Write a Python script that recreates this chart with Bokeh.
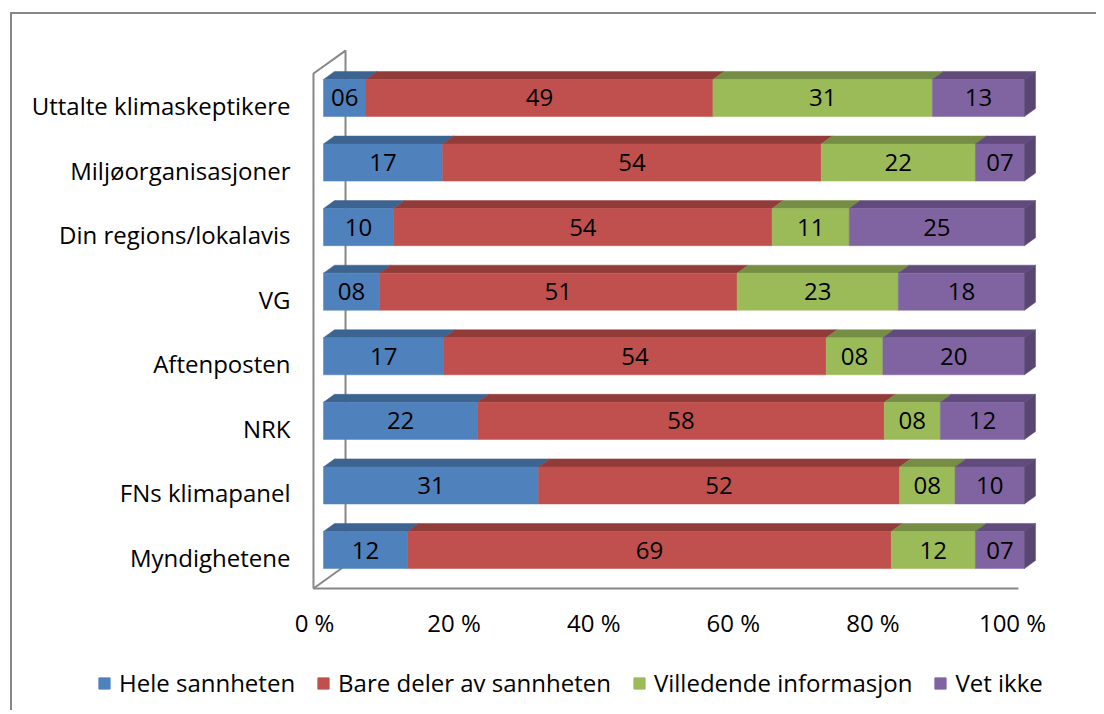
from bokeh.plotting import figure
from bokeh.layouts import column
from bokeh.models import ColumnDataSource, FixedTicker, Legend, LegendItem, Range1d
from bokeh.core.properties import value
from bokeh.embed import file_html
from bokeh.resources import INLINE

# ---------------- data ----------------
categories = ["Myndighetene", "FNs klimapanel", "NRK", "Aftenposten", "VG",
              "Din regions/lokalavis", "Miljøorganisasjoner", "Uttalte klimaskeptikere"]
series = ["Hele sannheten", "Bare deler av sannheten", "Villedende informasjon", "Vet ikke"]
hele = [12, 31, 22, 17, 8, 10, 17, 6]
bare = [69, 52, 58, 54, 51, 54, 54, 49]
villedende = [12, 8, 8, 8, 23, 11, 22, 31]
vet_ikke = [7, 10, 12, 20, 18, 25, 7, 13]
tick_values = [0, 20, 40, 60, 80, 100]
tick_labels = ["0 %", "20 %", "40 %", "60 %", "80 %", "100 %"]

# ---------------- style ----------------
FONT = "Open Sans"
FS = "24px"
front_colors = ["#4F81BD", "#C0504D", "#9BBB59", "#8064A2"]
top_colors = ["#3D6391", "#923C3A", "#758D45", "#604B7C"]
side_color = "#594673"
wall_color = "#878787"
DX, DY = 1.57, 0.124        # 3D depth offset (data units)
HALF_H = 0.287              # half height of bar front face
Y_SHIFT = 0.116             # front face centre relative to category tick
AXIS_OFF, AXIS_SCALE = -1.28, 0.9958   # floor-front projection of the % axis

p = figure(width=1084, height=640, output_backend="svg", toolbar_location=None,
           x_range=Range1d(-1.997, 103.0), y_range=Range1d(-0.542, 7.929),
           min_border_left=297, min_border_right=51, min_border_top=31,
           min_border_bottom=62)
p.frame_align = False
p.grid.visible = False
p.outline_line_color = None
p.background_fill_color = "white"
p.border_fill_color = "white"

# walls / floor
p.multi_line(xs=[[-1.43, -1.43, 3.14, 3.14], [-1.43, 99.14], [-1.43, 3.14]],
             ys=[[-0.48, 7.496, 7.85, -0.124], [-0.48, -0.48], [-0.48, -0.124]],
             line_color=wall_color, line_width=2)

data = [hele, bare, villedende, vet_ikke]
totals = [sum(v[i] for v in data) for i in range(len(categories))]
lefts = [0.0] * len(categories)
for k, vals in enumerate(data):
    frac = [100.0 * vals[i] / totals[i] for i in range(len(categories))]
    left = lefts[:]
    right = [left[i] + frac[i] for i in range(len(categories))]
    lefts = right
    yc = [i + Y_SHIFT for i in range(len(categories))]
    bottom = [y - HALF_H for y in yc]
    top = [y + HALF_H for y in yc]
    src = ColumnDataSource(dict(left=left, right=right, bottom=bottom, top=top,
                                xm=[(a + b) / 2 for a, b in zip(left, right)], ym=yc,
                                label=["%02d" % v for v in vals]))
    # top faces
    txs = [[l, r, r + DX, l + DX] for l, r in zip(left, right)]
    tys = [[t, t, t + DY, t + DY] for t in top]
    p.patches(txs, tys, fill_color=top_colors[k], line_color=top_colors[k], line_width=0.5)
    p.quad(left="left", right="right", bottom="bottom", top="top", source=src,
           fill_color=front_colors[k], line_color=front_colors[k], line_width=0.5)
    if k == len(data) - 1:
        sxs = [[rr, rr + DX, rr + DX, rr] for rr in right]
        sys_ = [[b, b + DY, t + DY, t] for b, t in zip(bottom, top)]
        p.patches(sxs, sys_, fill_color=side_color, line_color=side_color, line_width=0.5)
    p.text(x="xm", y="ym", text="label", source=src, text_font=value(FONT),
           text_font_size=FS, text_align="center", text_baseline="middle",
           text_color="black")

# axes
p.yaxis.ticker = FixedTicker(ticks=list(range(len(categories))))
p.yaxis.major_label_overrides = {i: c for i, c in enumerate(categories)}
tick_pos = [round(AXIS_OFF + t * AXIS_SCALE, 3) for t in tick_values]
p.xaxis.ticker = FixedTicker(ticks=tick_pos)
p.xaxis.major_label_overrides = {tp: lb for tp, lb in zip(tick_pos, tick_labels)}
for ax in (p.xaxis[0], p.yaxis[0]):
    ax.axis_line_color = None
    ax.major_tick_line_color = None
    ax.minor_tick_line_color = None
    ax.major_tick_out = 0
    ax.major_tick_in = 0
    ax.major_label_text_font = FONT
    ax.major_label_text_font_size = FS
    ax.major_label_text_color = "black"
p.yaxis.major_label_standoff = 19
p.xaxis.major_label_standoff = 13

# legend strip below the chart (its renderers are hidden; only the legend shows)
pl = figure(width=1084, height=56, output_backend="svg", toolbar_location=None,
            x_range=Range1d(0, 1084), y_range=Range1d(0, 56),
            min_border_left=0, min_border_right=0, min_border_top=0, min_border_bottom=0)
pl.frame_align = False
pl.axis.visible = False
pl.grid.visible = False
pl.outline_line_color = None
pl.border_fill_color = "white"
legend_items = []
for k, name in enumerate(series):
    r = pl.hbar(y=list(range(len(categories))), right=data[k], height=0.5,
                fill_color=front_colors[k], line_color=front_colors[k])
    r.visible = False
    legend_items.append(LegendItem(label=name, renderers=[r]))
legend = Legend(items=legend_items, orientation="horizontal", location=(85, 11),
                label_text_font=FONT, label_text_font_size=FS, label_text_color="black",
                glyph_width=14, glyph_height=14, label_standoff=8, spacing=21,
                padding=0, margin=0, border_line_color=None, background_fill_alpha=0,
                inactive_fill_alpha=0)
pl.add_layout(legend, "center")

layout = column(p, pl, spacing=0)
layout.styles = {"margin-left": "10px", "margin-top": "12px",
                 "border-left": f"2px solid {wall_color}", "border-top": f"2px solid {wall_color}"}

open("out.html", "w").write(file_html(layout, INLINE))
